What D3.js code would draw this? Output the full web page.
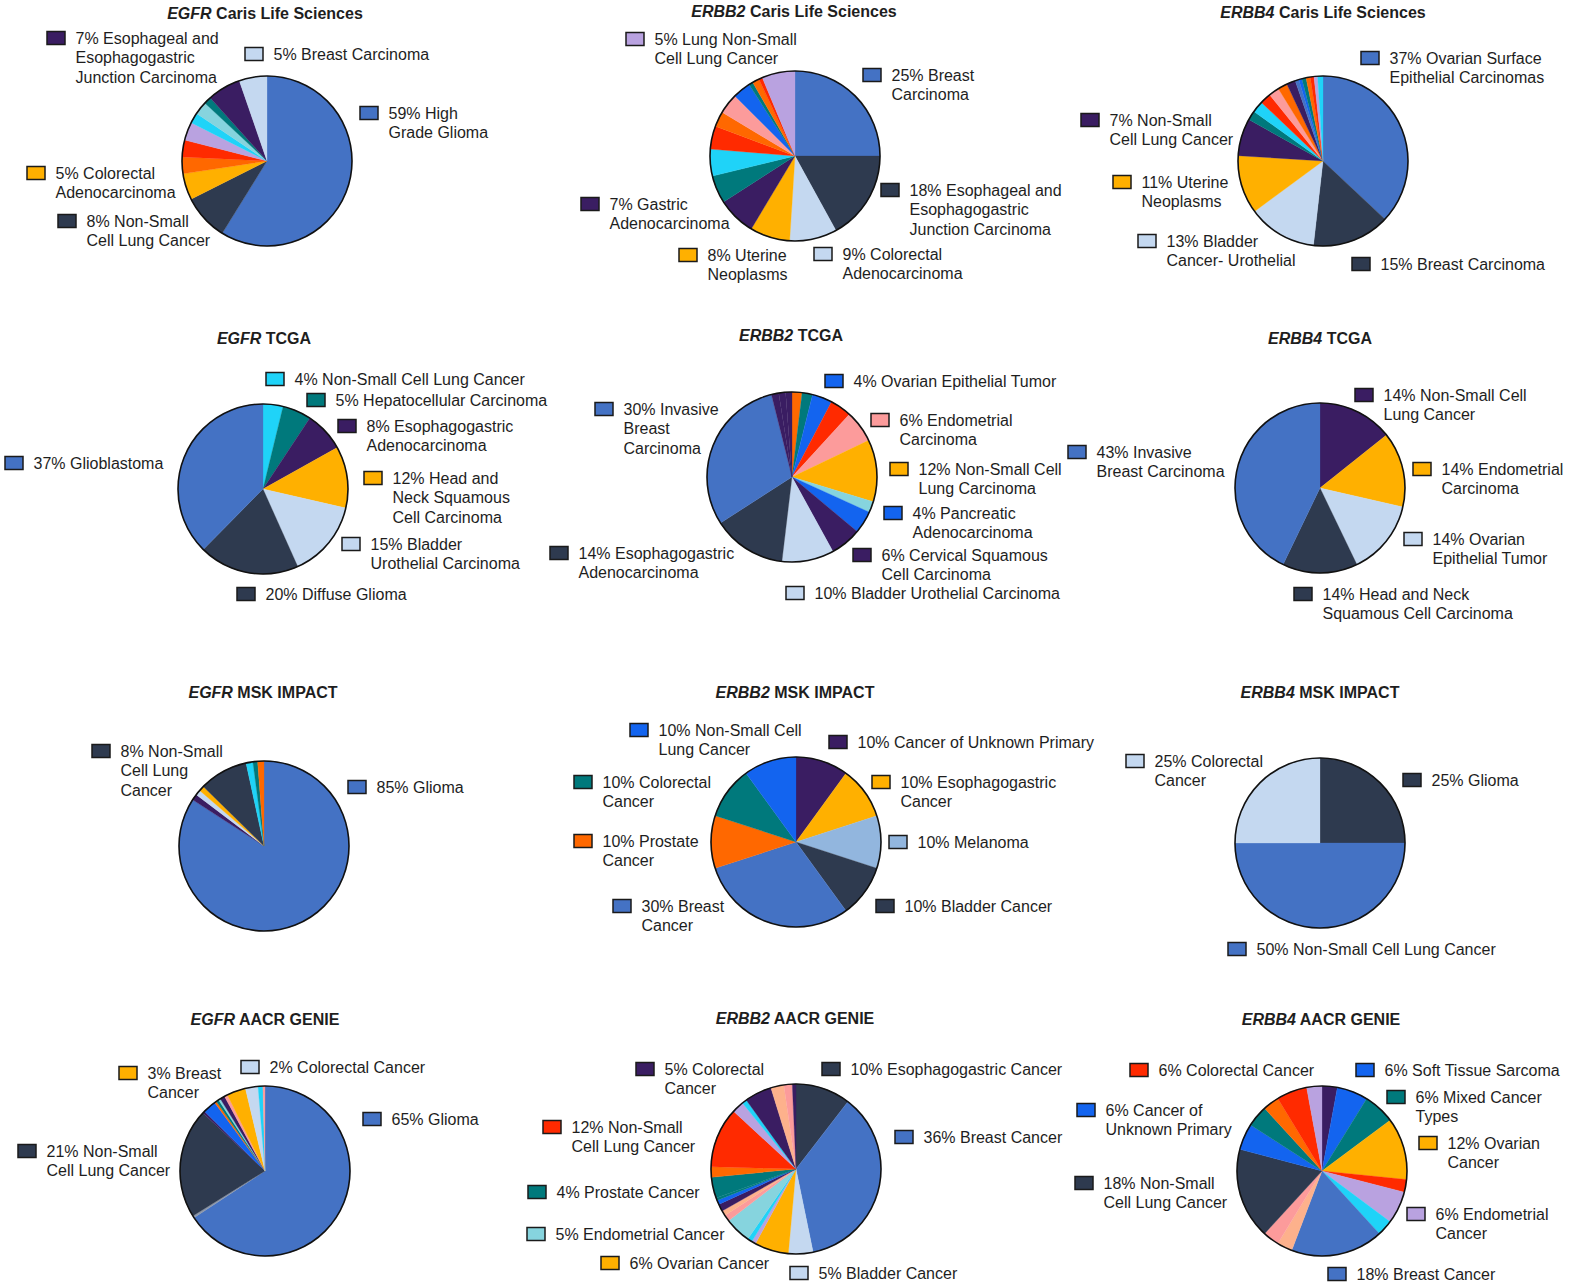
<!DOCTYPE html>
<html>
<head>
<meta charset="utf-8">
<script src="https://cdn.jsdelivr.net/npm/d3@7"></script>
<style>
  html, body { margin: 0; padding: 0; background: #fff; }
  svg { display: block; }
  text { font-family: "Liberation Sans", Arial, Helvetica, sans-serif; fill: #1e1e1e; }
</style>
</head>
<body>
<svg id="chart" width="1569" height="1286"></svg>
<script>
// ---------------- DATA ----------------
const genes = ["EGFR", "ERBB2", "ERBB4"];
const sources = ["Caris Life Sciences", "TCGA", "MSK IMPACT", "AACR GENIE"];

// EGFR Caris Life Sciences
const egfrCarisCategories = ["High Grade Glioma","Non-Small Cell Lung Cancer","Colorectal Adenocarcinoma","Other a","Other b","Other c","Other d","Other e","Other f","Esophageal and Esophagogastric Junction Carcinoma","Breast Carcinoma"];
const egfrCarisValues = [59, 8.8, 5, 3.2, 3.2, 3.5, 2, 2.5, 1.4, 6.4, 5.3];
const egfrCarisLegend = [
  {i: 9, t: ["7% Esophageal and", "Esophagogastric", "Junction Carcinoma"]},
  {i: 10, t: ["5% Breast Carcinoma"]},
  {i: 0, t: ["59% High", "Grade Glioma"]},
  {i: 2, t: ["5% Colorectal", "Adenocarcinoma"]},
  {i: 1, t: ["8% Non-Small", "Cell Lung Cancer"]}
];

// ERBB2 Caris Life Sciences
const erbb2CarisCategories = ["Breast Carcinoma","Esophageal and Esophagogastric Junction Carcinoma","Colorectal Adenocarcinoma","Uterine Neoplasms","Gastric Adenocarcinoma","Other a","Other b","Other c","Other d","Other e","Other f","Other g","Other h","Other i","Lung Non-Small Cell Lung Cancer"];
const erbb2CarisValues = [25, 17, 9, 7.6, 7.3, 5.3, 5.1, 4.4, 2.9, 3.9, 3.4, 0.8, 1.3, 0.7, 6.3];
const erbb2CarisLegend = [
  {i: 14, t: ["5% Lung Non-Small", "Cell Lung Cancer"]},
  {i: 0, t: ["25% Breast", "Carcinoma"]},
  {i: 1, t: ["18% Esophageal and", "Esophagogastric", "Junction Carcinoma"]},
  {i: 4, t: ["7% Gastric", "Adenocarcinoma"]},
  {i: 3, t: ["8% Uterine", "Neoplasms"]},
  {i: 2, t: ["9% Colorectal", "Adenocarcinoma"]}
];

// ERBB4 Caris Life Sciences
const erbb4CarisCategories = ["Ovarian Surface Epithelial Carcinomas","Breast Carcinoma","Bladder Cancer- Urothelial","Uterine Neoplasms","Non-Small Cell Lung Cancer","Other a","Other b","Other c","Other d","Other e","Other f","Other g","Other h","Other i","Other j","Other k","Other l","Other m"];
const erbb4CarisValues = [37, 14.8, 13.1, 11.1, 7.1, 1.8, 2.2, 2.1, 2.0, 1.8, 1.7, 0.7, 0.6, 0.8, 0.8, 0.7, 0.7, 1.0];
const erbb4CarisLegend = [
  {i: 0, t: ["37% Ovarian Surface", "Epithelial Carcinomas"]},
  {i: 4, t: ["7% Non-Small", "Cell Lung Cancer"]},
  {i: 3, t: ["11% Uterine", "Neoplasms"]},
  {i: 2, t: ["13% Bladder", "Cancer- Urothelial"]},
  {i: 1, t: ["15% Breast Carcinoma"]}
];

// EGFR TCGA
const egfrTcgaCategories = ["Non-Small Cell Lung Cancer","Hepatocellular Carcinoma","Esophagogastric Adenocarcinoma","Head and Neck Squamous Cell Carcinoma","Bladder Urothelial Carcinoma","Diffuse Glioma","Glioblastoma"];
const egfrTcgaValues = [3.8, 5.5, 7.6, 11.7, 14.7, 19.1, 37.6];
const egfrTcgaLegend = [
  {i: 0, t: ["4% Non-Small Cell Lung Cancer"]},
  {i: 1, t: ["5% Hepatocellular Carcinoma"]},
  {i: 2, t: ["8% Esophagogastric", "Adenocarcinoma"]},
  {i: 3, t: ["12% Head and", "Neck Squamous", "Cell Carcinoma"]},
  {i: 4, t: ["15% Bladder", "Urothelial Carcinoma"]},
  {i: 6, t: ["37% Glioblastoma"]},
  {i: 5, t: ["20% Diffuse Glioma"]}
];

// ERBB2 TCGA
const erbb2TcgaCategories = ["Other a","Other b","Ovarian Epithelial Tumor","Other c","Endometrial Carcinoma","Non-Small Cell Lung Carcinoma","Other d","Pancreatic Adenocarcinoma","Cervical Squamous Cell Carcinoma","Bladder Urothelial Carcinoma","Esophagogastric Adenocarcinoma","Invasive Breast Carcinoma","Other e","Other f","Other g"];
const erbb2TcgaValues = [1.9, 2.0, 3.8, 4.1, 6.1, 11.8, 2.1, 4.3, 5.9, 9.9, 14.0, 30.2, 1.4, 1.3, 1.2];
const erbb2TcgaLegend = [
  {i: 2, t: ["4% Ovarian Epithelial Tumor"]},
  {i: 4, t: ["6% Endometrial", "Carcinoma"]},
  {i: 5, t: ["12% Non-Small Cell", "Lung Carcinoma"]},
  {i: 7, t: ["4% Pancreatic", "Adenocarcinoma"]},
  {i: 8, t: ["6% Cervical Squamous", "Cell Carcinoma"]},
  {i: 9, t: ["10% Bladder Urothelial Carcinoma"]},
  {i: 11, t: ["30% Invasive", "Breast", "Carcinoma"]},
  {i: 10, t: ["14% Esophagogastric", "Adenocarcinoma"]}
];

// ERBB4 TCGA
const erbb4TcgaCategories = ["Non-Small Cell Lung Cancer","Endometrial Carcinoma","Ovarian Epithelial Tumor","Head and Neck Squamous Cell Carcinoma","Invasive Breast Carcinoma"];
const erbb4TcgaValues = [14.3, 14.3, 14.3, 14.3, 42.9];
const erbb4TcgaLegend = [
  {i: 4, t: ["43% Invasive", "Breast Carcinoma"]},
  {i: 0, t: ["14% Non-Small Cell", "Lung Cancer"]},
  {i: 1, t: ["14% Endometrial", "Carcinoma"]},
  {i: 2, t: ["14% Ovarian", "Epithelial Tumor"]},
  {i: 3, t: ["14% Head and Neck", "Squamous Cell Carcinoma"]}
];

// EGFR MSK IMPACT
const egfrMskCategories = ["Glioma","Other a","Other b","Other c","Non-Small Cell Lung Cancer","Other d","Other e","Other f"];
const egfrMskValues = [84.3, 1.2, 1.0, 1.0, 9.3, 1.3, 0.9, 1.2];
const egfrMskLegend = [
  {i: 4, t: ["8% Non-Small", "Cell Lung", "Cancer"]},
  {i: 0, t: ["85% Glioma"]}
];

// ERBB2 MSK IMPACT
const erbb2MskCategories = ["Cancer of Unknown Primary","Esophagogastric Cancer","Melanoma","Bladder Cancer","Breast Cancer","Prostate Cancer","Colorectal Cancer","Non-Small Cell Lung Cancer"];
const erbb2MskValues = [10, 10, 10, 10, 30, 10, 10, 10];
const erbb2MskLegend = [
  {i: 7, t: ["10% Non-Small Cell", "Lung Cancer"]},
  {i: 0, t: ["10% Cancer of Unknown Primary"]},
  {i: 6, t: ["10% Colorectal", "Cancer"]},
  {i: 1, t: ["10% Esophagogastric", "Cancer"]},
  {i: 5, t: ["10% Prostate", "Cancer"]},
  {i: 2, t: ["10% Melanoma"]},
  {i: 4, t: ["30% Breast", "Cancer"]},
  {i: 3, t: ["10% Bladder Cancer"]}
];

// ERBB4 MSK IMPACT
const erbb4MskCategories = ["Glioma","Non-Small Cell Lung Cancer","Colorectal Cancer"];
const erbb4MskValues = [25, 50, 25];
const erbb4MskLegend = [
  {i: 2, t: ["25% Colorectal", "Cancer"]},
  {i: 0, t: ["25% Glioma"]},
  {i: 1, t: ["50% Non-Small Cell Lung Cancer"]}
];

// EGFR AACR GENIE
const egfrAacrCategories = ["Glioma","Other a","Non-Small Cell Lung Cancer","Other b","Other c","Other d","Other e","Other f","Other g","Other h","Breast Cancer","Colorectal Cancer","Other i","Other j"];
const egfrAacrValues = [65.6, 0.4, 20.8, 0.4, 2.5, 0.4, 0.5, 0.4, 0.9, 0.6, 3.6, 2.4, 0.9, 0.4];
const egfrAacrLegend = [
  {i: 10, t: ["3% Breast", "Cancer"]},
  {i: 11, t: ["2% Colorectal Cancer"]},
  {i: 0, t: ["65% Glioma"]},
  {i: 2, t: ["21% Non-Small", "Cell Lung Cancer"]}
];

// ERBB2 AACR GENIE
const erbb2AacrCategories = ["Esophagogastric Cancer","Breast Cancer","Bladder Cancer","Ovarian Cancer","Other a","Other b","Endometrial Cancer","Other c","Other d","Other e","Other f","Other g","Prostate Cancer","Other h","Non-Small Cell Lung Cancer","Other i","Other j","Colorectal Cancer","Other k","Other l","Other m"];
const erbb2AacrValues = [10.5, 36.5, 4.7, 6.5, 0.8, 0.9, 5.0, 1.2, 1.0, 1.4, 0.8, 0.5, 4.0, 2.0, 11.5, 2.3, 0.9, 5.2, 2.5, 1.6, 0.7];
const erbb2AacrLegend = [
  {i: 17, t: ["5% Colorectal", "Cancer"]},
  {i: 0, t: ["10% Esophagogastric Cancer"]},
  {i: 14, t: ["12% Non-Small", "Cell Lung Cancer"]},
  {i: 1, t: ["36% Breast Cancer"]},
  {i: 12, t: ["4% Prostate Cancer"]},
  {i: 6, t: ["5% Endometrial Cancer"]},
  {i: 3, t: ["6% Ovarian Cancer"]},
  {i: 2, t: ["5% Bladder Cancer"]}
];

// ERBB4 AACR GENIE
const erbb4AacrCategories = ["Other a","Soft Tissue Sarcoma","Mixed Cancer Types","Ovarian Cancer","Other b","Endometrial Cancer","Other c","Breast Cancer","Other d","Other e","Non-Small Cell Lung Cancer","Cancer of Unknown Primary","Other f","Other g","Colorectal Cancer","Other h"];
const erbb4AacrValues = [2.9, 5.9, 6.0, 11.8, 2.4, 6.2, 3.0, 17.6, 2.9, 3.1, 17.3, 5.0, 4.1, 3.1, 5.8, 2.9];
const erbb4AacrLegend = [
  {i: 14, t: ["6% Colorectal Cancer"]},
  {i: 1, t: ["6% Soft Tissue Sarcoma"]},
  {i: 2, t: ["6% Mixed Cancer", "Types"]},
  {i: 11, t: ["6% Cancer of", "Unknown Primary"]},
  {i: 3, t: ["12% Ovarian", "Cancer"]},
  {i: 10, t: ["18% Non-Small", "Cell Lung Cancer"]},
  {i: 5, t: ["6% Endometrial", "Cancer"]},
  {i: 7, t: ["18% Breast Cancer"]}
];

// ---------------- STYLE ----------------
const palette = {
  B: "#4472c4", N: "#2e3a4f", L: "#c4d8f0", O: "#ffb000", P: "#3a1d62",
  T: "#00797c", C: "#1fd3f8", R: "#ff2a00", OR: "#ff6800", V: "#b9a2e0",
  LT: "#86d4de", PK: "#fc9b9b", BB: "#1364ef", PE: "#fdb18c", S: "#92b6de", G: "#8c96a8"
};
const sliceColorKeys = {
  egfrCaris: ["B","N","O","OR","R","V","C","LT","T","P","L"],
  erbb2Caris: ["B","N","L","O","P","T","C","R","OR","PK","BB","T","OR","R","V"],
  erbb4Caris: ["B","N","L","O","P","T","C","R","PK","OR","P","B","BB","T","OR","R","V","C"],
  egfrTcga: ["C","T","P","O","L","N","B"],
  erbb2Tcga: ["OR","T","BB","R","PK","O","LT","BB","P","L","N","B","P","P","P"],
  erbb4Tcga: ["P","O","L","N","B"],
  egfrMsk: ["B","P","L","O","N","C","T","OR"],
  erbb2Msk: ["P","O","S","N","B","OR","T","BB"],
  erbb4Msk: ["N","B","L"],
  egfrAacr: ["B","G","N","P","BB","OR","T","LT","P","PK","O","L","C","PK"],
  erbb2Aacr: ["N","B","L","O","V","C","LT","PK","PE","P","BB","T","T","OR","R","V","C","P","PE","PK","P"],
  erbb4Aacr: ["P","BB","T","O","R","V","C","B","PE","PK","N","BB","T","OR","R","V"]
};

// ---------------- LAYOUT ----------------
const R = 85;
const charts = [
  {key: "egfrCaris", gene: 0, src: 0, title: [265, 13], center: [267, 161], cats: egfrCarisCategories, values: egfrCarisValues, legend: egfrCarisLegend,
   pos: [[47, 38], [245, 54], [360, 113], [27, 173], [58, 221]]},
  {key: "erbb2Caris", gene: 1, src: 0, title: [794, 11], center: [795, 156], cats: erbb2CarisCategories, values: erbb2CarisValues, legend: erbb2CarisLegend,
   pos: [[626, 39], [863, 75], [881, 190], [581, 204], [679, 255], [814, 254]]},
  {key: "erbb4Caris", gene: 2, src: 0, title: [1323, 12], center: [1323, 161], cats: erbb4CarisCategories, values: erbb4CarisValues, legend: erbb4CarisLegend,
   pos: [[1361, 58], [1081, 120], [1113, 182], [1138, 241], [1352, 264]]},
  {key: "egfrTcga", gene: 0, src: 1, title: [264, 338], center: [263, 489], cats: egfrTcgaCategories, values: egfrTcgaValues, legend: egfrTcgaLegend,
   pos: [[266, 379], [307, 400], [338, 426], [364, 478], [342, 544], [5, 463], [237, 594]]},
  {key: "erbb2Tcga", gene: 1, src: 1, title: [791, 335], center: [792, 477], cats: erbb2TcgaCategories, values: erbb2TcgaValues, legend: erbb2TcgaLegend,
   pos: [[825, 381], [871, 420], [890, 469], [884, 513], [853, 555], [786, 593], [595, 409], [550, 553]]},
  {key: "erbb4Tcga", gene: 2, src: 1, title: [1320, 338], center: [1320, 488], cats: erbb4TcgaCategories, values: erbb4TcgaValues, legend: erbb4TcgaLegend,
   pos: [[1068, 452], [1355, 395], [1413, 469], [1404, 539], [1294, 594]]},
  {key: "egfrMsk", gene: 0, src: 2, title: [263, 692], center: [264, 846], cats: egfrMskCategories, values: egfrMskValues, legend: egfrMskLegend,
   pos: [[92, 751], [348, 787]]},
  {key: "erbb2Msk", gene: 1, src: 2, title: [795, 692], center: [796, 842], cats: erbb2MskCategories, values: erbb2MskValues, legend: erbb2MskLegend,
   pos: [[630, 730], [829, 742], [574, 782], [872, 782], [574, 841], [889, 842], [613, 906], [876, 906]]},
  {key: "erbb4Msk", gene: 2, src: 2, title: [1320, 692], center: [1320, 843], cats: erbb4MskCategories, values: erbb4MskValues, legend: erbb4MskLegend,
   pos: [[1126, 761], [1403, 780], [1228, 949]]},
  {key: "egfrAacr", gene: 0, src: 3, title: [265, 1019], center: [265, 1171], cats: egfrAacrCategories, values: egfrAacrValues, legend: egfrAacrLegend,
   pos: [[119, 1073], [241, 1067], [363, 1119], [18, 1151]]},
  {key: "erbb2Aacr", gene: 1, src: 3, title: [795, 1018], center: [796, 1169], cats: erbb2AacrCategories, values: erbb2AacrValues, legend: erbb2AacrLegend,
   pos: [[636, 1069], [822, 1069], [543, 1127], [895, 1137], [528, 1192], [527, 1234], [601, 1263], [790, 1273]]},
  {key: "erbb4Aacr", gene: 2, src: 3, title: [1321, 1019], center: [1322, 1171], cats: erbb4AacrCategories, values: erbb4AacrValues, legend: erbb4AacrLegend,
   pos: [[1130, 1070], [1356, 1070], [1387, 1097], [1077, 1110], [1419, 1143], [1075, 1183], [1407, 1214], [1328, 1274]]}
];

// ---------------- DRAW ----------------
const svg = d3.select("#chart");
const pie = d3.pie().sort(null).value(d => d.value);
const arc = d3.arc().innerRadius(0).outerRadius(R);
const lineH = 19.8;

charts.forEach(ch => {
  const colorScale = d3.scaleOrdinal()
    .domain(ch.cats)
    .range(sliceColorKeys[ch.key].map(k => palette[k]));
  const data = ch.cats.map((c, i) => ({cat: c, value: ch.values[i]}));

  // title
  const t = svg.append("text")
    .attr("x", ch.title[0]).attr("y", ch.title[1])
    .attr("text-anchor", "middle").attr("dominant-baseline", "central")
    .style("font-size", "16px").style("font-weight", "bold");
  t.append("tspan").style("font-style", "italic").text(genes[ch.gene]);
  t.append("tspan").text(" " + sources[ch.src]);

  // pie
  const g = svg.append("g").attr("transform", `translate(${ch.center[0]},${ch.center[1]})`);
  g.selectAll("path.slice").data(pie(data)).join("path")
    .attr("class", "slice")
    .attr("d", arc)
    .attr("fill", d => colorScale(d.data.cat))
    .attr("stroke", d => colorScale(d.data.cat))
    .attr("stroke-width", 0.3);
  g.append("circle").attr("r", R).attr("fill", "none")
    .attr("stroke", "#111").attr("stroke-width", 1.6);

  // legend
  ch.legend.forEach((lg, j) => {
    const [sx, sy] = ch.pos[j];
    svg.append("rect")
      .attr("x", sx).attr("y", sy - 6.5)
      .attr("width", 18).attr("height", 13)
      .attr("fill", colorScale(ch.cats[lg.i]))
      .attr("stroke", "#1a1a1a").attr("stroke-width", 1.5);
    const tx = svg.append("text")
      .attr("x", sx + 28.5).attr("y", sy)
      .style("font-size", "16px");
    lg.t.forEach((line, k) => {
      tx.append("tspan")
        .attr("x", sx + 28.5)
        .attr("y", sy + k * lineH)
        .attr("dominant-baseline", "central")
        .text(line);
    });
  });
});
</script>
</body>
</html>
